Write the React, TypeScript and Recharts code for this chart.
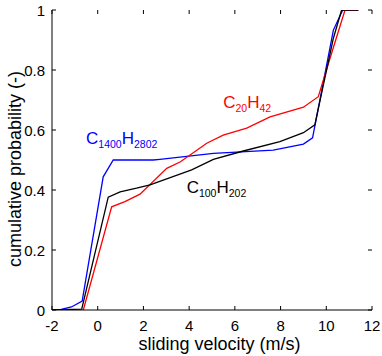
import React from 'react';
import { LineChart, Line, XAxis, YAxis, ReferenceDot } from 'recharts';

// velocity (m/s) / cumulative probability pairs
const c1400Velocity = [-2, -1.6, -1.15, -0.68, 0.24, 0.68, 2.43, 2.72, 5.06, 7.68, 9.0, 9.4, 10.31, 10.72, 11.4];
const c1400Prob = [0, 0.002, 0.01, 0.03, 0.444, 0.5, 0.5, 0.502, 0.522, 0.533, 0.553, 0.574, 0.933, 1, 1];

const c20Velocity = [-0.63, 0.61, 1.19, 1.85, 3.02, 3.62, 4.77, 5.49, 6.52, 7.54, 9.0, 9.65, 10.31, 10.82, 11.4];
const c20Prob = [0, 0.344, 0.361, 0.386, 0.472, 0.494, 0.556, 0.583, 0.606, 0.644, 0.676, 0.711, 0.875, 1, 1];

const c100Velocity = [-2, -0.7, 0.46, 0.98, 1.7, 2.29, 4.11, 5.06, 6.37, 7.97, 9.0, 9.5, 10.31, 10.67, 11.4];
const c100Prob = [0, 0.003, 0.376, 0.394, 0.406, 0.417, 0.467, 0.502, 0.53, 0.561, 0.591, 0.617, 0.906, 1, 1];

const xTicks = [-2, 0, 2, 4, 6, 8, 10, 12];
const yTicks = [0, 0.2, 0.4, 0.6, 0.8, 1];

const zip = (vs: number[], ps: number[]) => vs.map((v, i) => ({ v, p: ps[i] }));

const FONT = 'Arial, "Liberation Sans", Helvetica, sans-serif';
const NARROW = '"Liberation Sans Narrow", "Arial Narrow", Arial, sans-serif';

// plot box, follows from the chart margins and axis sizes below
const W = 382, H = 356;
const TOP = 10, RIGHT = W - 10, LEFT = 52, BOTTOM = H - 46;
const TICK = 4;

const series = [
    { name: 'C1400H2802', color: '#0000ff', data: zip(c1400Velocity, c1400Prob), label: ['1400', '2802'], at: [-0.51, 0.552] },
    { name: 'C20H42', color: '#ff0000', data: zip(c20Velocity, c20Prob), label: ['20', '42'], at: [5.49, 0.673] },
    { name: 'C100H202', color: '#000000', data: zip(c100Velocity, c100Prob), label: ['100', '202'], at: [3.89, 0.389] },
];

const formula = (c: string, h: string, color: string) => (props: any) => {
    const { x, y } = props.viewBox;
    return (
        <text x={x} y={y} fill={color} fontFamily={FONT} fontSize={17}>
            <tspan>C</tspan>
            <tspan fontSize={10.5} dy={3.5}>{c}</tspan>
            <tspan dy={-3.5}>H</tspan>
            <tspan fontSize={10.5} dy={3.5}>{h}</tspan>
        </text>
    );
};

// x ticks point inward on bottom and top edges
const XTick = (props: any) => {
    const { x, payload } = props;
    return (
        <g>
            <line x1={x} x2={x} y1={BOTTOM} y2={BOTTOM - TICK} stroke="#000" />
            <line x1={x} x2={x} y1={TOP} y2={TOP + TICK} stroke="#000" />
            <text x={x} y={BOTTOM + 21} textAnchor="middle" fontFamily={NARROW} fontSize={15} fill="#000">
                {payload.value}
            </text>
        </g>
    );
};

const YTick = (props: any) => {
    const { y, payload } = props;
    return (
        <g>
            <line x1={LEFT} x2={LEFT + TICK} y1={y} y2={y} stroke="#000" />
            <line x1={RIGHT} x2={RIGHT - TICK} y1={y} y2={y} stroke="#000" />
            <text x={LEFT - 7} y={y + 5.5} textAnchor="end" fontFamily={NARROW} fontSize={15} fill="#000">
                {payload.value}
            </text>
        </g>
    );
};

export default function App() {
    return (
        <div style={{ position: 'absolute', left: 0, top: 0, background: '#fff' }}>
            <LineChart width={W} height={H} margin={{ top: TOP, right: W - RIGHT, bottom: 0, left: 0 }}>
                <XAxis
                    dataKey="v"
                    type="number"
                    domain={[-2, 12]}
                    ticks={xTicks}
                    allowDataOverflow
                    height={H - BOTTOM}
                    tickLine={false}
                    tick={<XTick />}
                    stroke="#000"
                    label={(p: any) => {
                        const vb = p.viewBox;
                        return (
                            <text x={vb.x + vb.width / 2 + 7.5} y={vb.y + 40} textAnchor="middle" fontFamily={FONT} fontSize={18} fill="#000">
                                sliding velocity (m/s)
                            </text>
                        );
                    }}
                />
                <XAxis
                    xAxisId="top"
                    orientation="top"
                    type="number"
                    domain={[-2, 12]}
                    ticks={xTicks}
                    allowDataOverflow
                    height={0}
                    tickLine={false}
                    tick={false}
                    stroke="#000"
                />
                <YAxis
                    dataKey="p"
                    type="number"
                    domain={[0, 1]}
                    ticks={yTicks}
                    allowDataOverflow
                    width={LEFT}
                    tickLine={false}
                    tick={<YTick />}
                    stroke="#000"
                    label={(p: any) => {
                        const vb = p.viewBox;
                        const cy = vb.y + vb.height / 2 + 9;
                        return (
                            <text x={21} y={cy} transform={`rotate(-90, 21, ${cy})`} textAnchor="middle" fontFamily={FONT} fontSize={18} fill="#000">
                                cumulative probability (-)
                            </text>
                        );
                    }}
                />
                <YAxis
                    yAxisId="right"
                    orientation="right"
                    type="number"
                    domain={[0, 1]}
                    ticks={yTicks}
                    allowDataOverflow
                    width={0}
                    tickLine={false}
                    tick={false}
                    stroke="#000"
                />
                {series.map(s => (
                    <Line
                        key={s.name}
                        data={s.data}
                        dataKey="p"
                        type="linear"
                        stroke={s.color}
                        strokeWidth={1.3}
                        dot={false}
                        isAnimationActive={false}
                    />
                ))}
                {series.map(s => (
                    <ReferenceDot
                        key={s.name + '-label'}
                        x={s.at[0]}
                        y={s.at[1]}
                        r={0}
                        fill="none"
                        stroke="none"
                        label={{ content: formula(s.label[0], s.label[1], s.color) }}
                    />
                ))}
            </LineChart>
        </div>
    );
}
